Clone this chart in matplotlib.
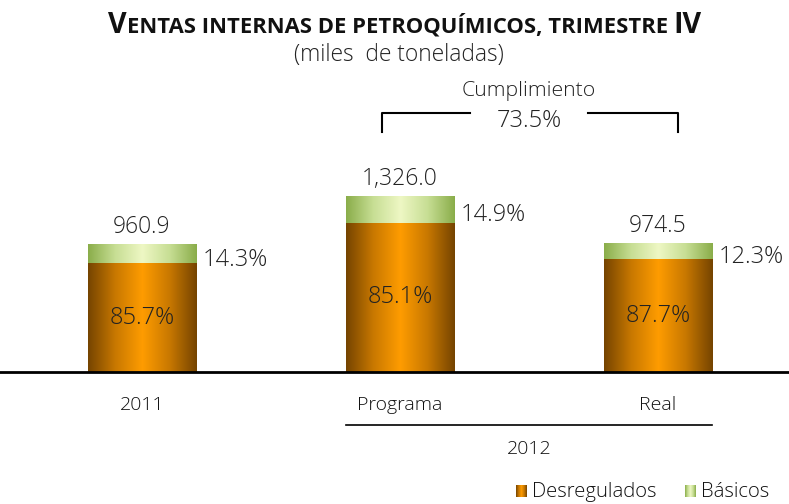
import matplotlib.pyplot as plt
import numpy as np
from matplotlib.colors import LinearSegmentedColormap

plt.rcParams["font.family"] = ["Open Sans", "DejaVu Sans"]
plt.rcParams["font.weight"] = "light"

# data
categories = ["2011", "Programa", "Real"]
totals = [960.9, 1326.0, 974.5]
pct_desregulados = [85.7, 85.1, 87.7]
pct_basicos = [14.3, 14.9, 12.3]
total_labels = ["960.9", "1,326.0", "974.5"]
cumplimiento = "73.5%"

orange_cmap = LinearSegmentedColormap.from_list(
    "orange", ["#754400", "#c87800", "#ff9c00", "#c87800", "#754400"])
green_cmap = LinearSegmentedColormap.from_list(
    "green", ["#8aad4a", "#c7de94", "#eef7c4", "#c7de94", "#8aad4a"])
grad = np.linspace(0, 1, 256).reshape(1, -1)

fig = plt.figure(figsize=(7.89, 5.04), dpi=100)
ax = fig.add_axes([0, 132 / 504, 1, 372 / 504])
ax.set_xlim(-142 / 258, (789 - 142) / 258)
ax.set_ylim(0, 372 / 0.1322)
ax.axis("off")

total_size = 16.5
pct_size = 17
width = 0.42
x = np.arange(len(categories))
for i in x:
    low = totals[i] * pct_desregulados[i] / 100
    top = totals[i]
    ax.imshow(grad, cmap=orange_cmap, aspect="auto",
              extent=(i - width / 2, i + width / 2, 0, low), zorder=2)
    ax.imshow(grad, cmap=green_cmap, aspect="auto",
              extent=(i - width / 2, i + width / 2, low, top), zorder=2)
    ax.annotate(total_labels[i], (i, top), xytext=(0, 4),
                textcoords="offset points", ha="center", va="bottom",
                fontsize=total_size, color="#222222")
    ax.annotate(f"{pct_basicos[i]:.1f}%", (i + width / 2, (low + top) / 2),
                xytext=(5, -4), textcoords="offset points", ha="left",
                va="center", fontsize=pct_size, color="#222222")
    ax.text(i, low / 2, f"{pct_desregulados[i]:.1f}%", ha="center",
            va="center", fontsize=pct_size, color="#222222", zorder=3)
    ax.annotate(categories[i], (i, 0), xytext=(0, -17),
                textcoords="offset points", ha="center", va="top",
                fontsize=14, color="#111111", annotation_clip=False)

ax.axhline(0, color="black", lw=2, zorder=4, clip_on=False)

# 2012 bracket under Programa / Real
ax.plot([1 - width / 2, 2 + width / 2], [-400, -400], color="black",
        lw=1.2, clip_on=False)
ax.text(1.5, -585, "2012", ha="center", va="center", fontsize=14,
        color="#111111")

# Cumplimiento bracket
yb = 1959
ax.plot([0.93, 0.93, 1.27], [1815, yb, yb], color="black", lw=1.5,
        clip_on=False)
ax.plot([1.73, 2.077, 2.077], [yb, yb, 1815], color="black", lw=1.5,
        clip_on=False)
ax.text(1.5, 2125, "Cumplimiento", ha="center", va="center", fontsize=15.3,
        color="#222222")
ax.text(1.5, 1895, cumplimiento, ha="center", va="center", fontsize=pct_size,
        color="#222222")

# title in small caps, pieces placed side by side on one baseline
pieces = [("V", 20.6), ("ENTAS INTERNAS DE PETROQUÍMICOS, TRIMESTRE ", 15.8),
          ("IV", 20.6)]
renderer = fig.canvas.get_renderer()
title_y = 1 - 33 / 504
parts = []
xpos = 0.0
for txt, size in pieces:
    t = fig.text(xpos, title_y, txt, fontsize=size, fontweight="bold",
                 ha="left", va="baseline", color="#111111")
    bb = t.get_window_extent(renderer)
    parts.append(t)
    xpos += bb.width / fig.bbox.width
start = 405 / 789 - xpos / 2
for t in parts:
    t.set_x(t.get_position()[0] + start)

fig.text(399 / 789, 1 - 55 / 504, "(miles  de toneladas)", ha="center",
         va="center", fontsize=16.4, color="#222222")

fig.text(20 / 789, 1 - 514 / 504, "Fuente: Base de Datos Institucional",
         ha="left", va="center", fontsize=14, color="#222222")

# legend with gradient swatches
for cmap, left, label in [(orange_cmap, 516, "Desregulados"),
                          (green_cmap, 685, "Básicos")]:
    sw = fig.add_axes([left / 789, 7 / 504, 11 / 789, 12 / 504])
    sw.imshow(grad, cmap=cmap, aspect="auto")
    sw.axis("off")
    fig.text((left + 16) / 789, 12 / 504, label, ha="left", va="center",
             fontsize=14.6, color="#111111")

fig.savefig("out.png", dpi=100)
